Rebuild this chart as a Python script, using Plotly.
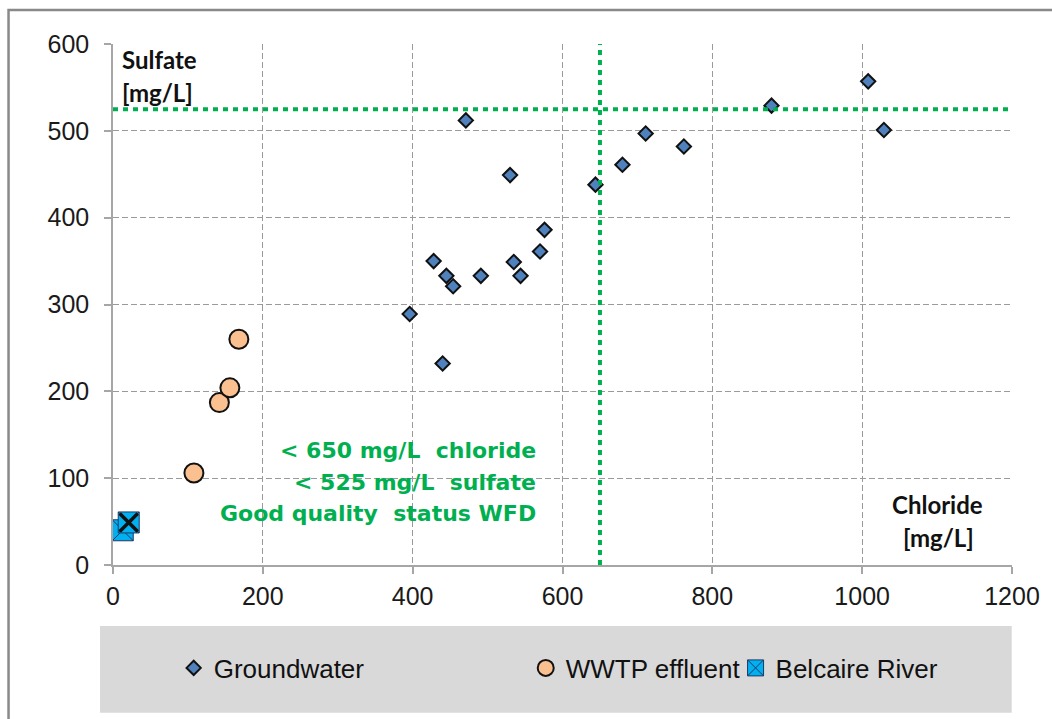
import plotly.graph_objects as go

# Groundwater samples: chloride vs sulfate (mg/L)
gw_chloride = [396, 440, 428, 445, 454, 471, 491, 530, 535, 544, 570, 576,
               644, 680, 711, 762, 879, 1008, 1029]
gw_sulfate = [289, 232, 350, 333, 321, 512, 333, 449, 349, 333, 361, 386,
              438, 461, 497, 482, 529, 557, 501]

# Wastewater treatment plant effluent
wwtp_chloride = [108, 142, 156, 168]
wwtp_sulfate = [106, 187, 204, 260]

# Belcaire River
river_chloride = [13, 21]
river_sulfate = [40, 49]

# WFD good-status thresholds
chloride_limit = 650
sulfate_limit = 525

x_ticks = [0, 200, 400, 600, 800, 1000, 1200]
y_ticks = [0, 100, 200, 300, 400, 500, 600]

TICK_FONT = dict(family="Liberation Sans, Arial", size=25, color="#1a1a1a")
LABEL_FONT = dict(family="Lato", size=24, color="#111111", weight="bold")
GREEN = "#00B050"

fig = go.Figure()

fig.add_trace(go.Scatter(
    x=gw_chloride, y=gw_sulfate, mode="markers", name="Groundwater",
    marker=dict(symbol="diamond", size=11, color="#4F81BD",
                line=dict(color="#111111", width=2)),
    legend="legend",
))
fig.add_trace(go.Scatter(
    x=wwtp_chloride, y=wwtp_sulfate, mode="markers", name="WWTP effluent",
    marker=dict(symbol="circle", size=19, color="#FAC08F",
                line=dict(color="#111111", width=2)),
    legend="legend2",
))
fig.add_trace(go.Scatter(
    x=river_chloride, y=river_sulfate, mode="markers", name="Belcaire River",
    marker=dict(symbol="square-x", size=21, color="#00B0F0",
                line=dict(color="#1F3864", width=1)),
    legend="legend3",
))
# bold cross on the top river sample
fig.add_trace(go.Scatter(
    x=river_chloride[-1:], y=river_sulfate[-1:], mode="markers",
    showlegend=False,
    marker=dict(symbol="x-thin", size=18, color="#111111",
                line=dict(color="#111111", width=3.5)),
    hoverinfo="skip",
))

DOT = "5px,5px"
shapes = [
    # outer frame
    dict(type="rect", xref="paper", yref="paper", x0=-0.1162, x1=1.1,
         y0=-0.35, y1=1.0653, line=dict(color="#898989", width=2.5),
         layer="below"),
    # legend band
    dict(type="rect", xref="paper", yref="paper", x0=-0.0144, x1=0.9997,
         y0=-0.2835, y1=-0.1171, fillcolor="#D9D9D9", line=dict(width=0),
         layer="below"),
    # threshold lines
    dict(type="line", xref="x", yref="paper", x0=chloride_limit,
         x1=chloride_limit, y0=0, y1=1,
         line=dict(color=GREEN, width=4, dash=DOT)),
    dict(type="line", xref="paper", yref="y", x0=0, x1=1,
         y0=sulfate_limit, y1=sulfate_limit,
         line=dict(color=GREEN, width=4, dash=DOT)),
]

GREEN_FONT = dict(family="DejaVu Sans", size=22, color=GREEN, weight="bold")
annotations = [
    dict(text="Sulfate", x=0.0077, y=0.9693, xanchor="left", yanchor="middle",
         font=LABEL_FONT),
    dict(text="[mg/L]", x=0.0077, y=0.906, xanchor="left", yanchor="middle",
         font=LABEL_FONT),
    dict(text="Chloride", x=0.9175, y=0.117, xanchor="center",
         yanchor="middle", font=LABEL_FONT),
    dict(text="[mg/L]", x=0.9185, y=0.0537, xanchor="center",
         yanchor="middle", font=LABEL_FONT),
    dict(text=f"< {chloride_limit} mg/L  chloride", x=0.4723, y=0.2207,
         xanchor="right", yanchor="middle", font=GREEN_FONT),
    dict(text=f"< {sulfate_limit} mg/L  sulfate", x=0.4723, y=0.1593,
         xanchor="right", yanchor="middle", font=GREEN_FONT),
    dict(text="Good quality  status WFD", x=0.4723, y=0.0979,
         xanchor="right", yanchor="middle", font=GREEN_FONT),
]
for a in annotations:
    a.update(xref="paper", yref="paper", showarrow=False)

axis_common = dict(
    showgrid=True, gridcolor="#9a9a9a", gridwidth=1, griddash="6px,3px",
    showline=True, linecolor="#a6a6a6", linewidth=1.5,
    ticks="outside", ticklen=7, tickcolor="#a6a6a6", tickwidth=1.5,
    tickfont=TICK_FONT, zeroline=False,
)

legend_common = dict(orientation="h", bgcolor="rgba(0,0,0,0)",
                     font=dict(family="Liberation Sans, Arial", size=26,
                               color="#111111"),
                     yanchor="middle", y=-0.1977, xanchor="left",
                     itemclick=False)

fig.update_layout(
    width=1052, height=719,
    margin=dict(l=113, r=35, t=44, b=154),
    paper_bgcolor="white", plot_bgcolor="white",
    xaxis=dict(range=[0, 1200], tickvals=x_ticks, ticklabelstandoff=1,
               **axis_common),
    yaxis=dict(range=[0, 600], tickvals=y_ticks, ticklabelstandoff=10,
               **axis_common),
    shapes=shapes,
    annotations=annotations,
    legend=dict(x=0.0675, **legend_common),
    legend2=dict(x=0.4591, **legend_common),
    legend3=dict(x=0.6925, **legend_common),
    showlegend=True,
)

fig.write_html("out.html")
